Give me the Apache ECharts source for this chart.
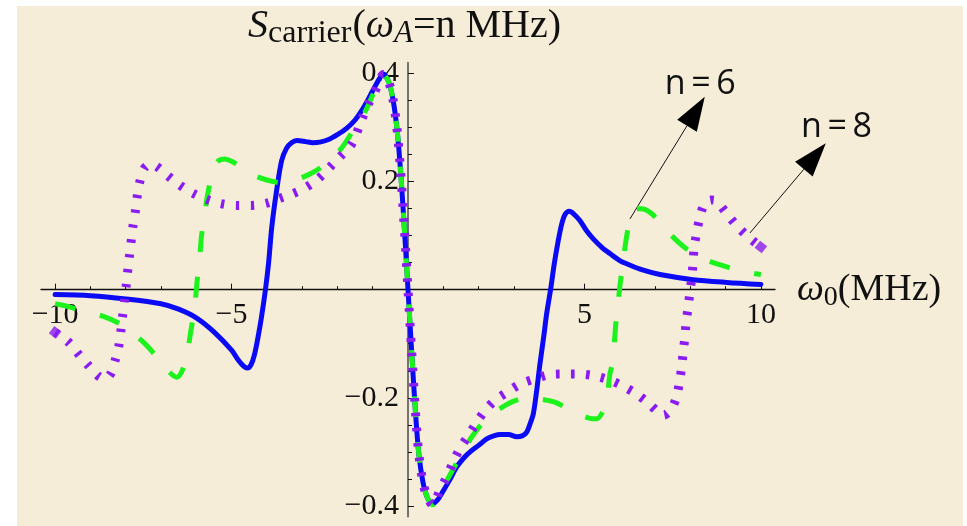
<!DOCTYPE html>
<html>
<head>
<meta charset="utf-8">
<script src="https://cdn.jsdelivr.net/npm/echarts@6/dist/echarts.min.js"></script>
<style>
  html, body { margin: 0; padding: 0; background: #ffffff; }
  #paper { position: absolute; left: 17px; top: 6px; width: 946px; height: 520px; background: #F6EDD8; }
  #chart { position: absolute; left: 0; top: 0; width: 967px; height: 526px; }
</style>
</head>
<body>
<div id="paper"></div>
<div id="chart"></div>
<script>
// S_carrier versus detuning omega_0 (MHz) for three modulation frequencies.
// Solid blue: reference response; dashed green: omega_A = 6 MHz; dotted violet: omega_A = 8 MHz.
const blueCurve = [
  [-10, -0.009], [-9, -0.011], [-8, -0.017], [-7, -0.026], [-6.5, -0.036], [-6, -0.052],
  [-5.5, -0.078], [-5, -0.112], [-4.8, -0.131], [-4.65, -0.142], [-4.55, -0.145], [-4.45, -0.139],
  [-4.35, -0.12], [-4.25, -0.088], [-4.15, -0.05], [-4.04, 0], [-3.95, 0.05], [-3.86, 0.116],
  [-3.72, 0.185], [-3.58, 0.239], [-3.44, 0.262], [-3.3, 0.272], [-3.15, 0.276], [-2.9, 0.274],
  [-2.7, 0.272], [-2.5, 0.273], [-2.25, 0.278], [-2.0, 0.287], [-1.75, 0.298], [-1.5, 0.314],
  [-1.25, 0.338], [-1.0, 0.368], [-0.85, 0.386], [-0.7, 0.399], [-0.55, 0.385], [-0.42, 0.35],
  [-0.3, 0.29], [-0.2, 0.21], [-0.1, 0.11], [0, 0], [0.1, -0.11], [0.2, -0.215], [0.3, -0.3],
  [0.42, -0.355], [0.55, -0.385], [0.69, -0.396], [0.85, -0.388], [1.0, -0.372], [1.2, -0.35],
  [1.38, -0.328], [1.6, -0.31], [1.76, -0.3], [2.0, -0.288], [2.23, -0.276], [2.45, -0.27],
  [2.61, -0.268], [2.85, -0.268], [3.08, -0.272], [3.25, -0.27], [3.36, -0.264], [3.45, -0.25],
  [3.55, -0.23], [3.65, -0.185], [3.74, -0.137], [3.85, -0.085], [3.93, -0.044], [4.04, 0],
  [4.15, 0.05], [4.25, 0.088], [4.35, 0.12], [4.45, 0.139], [4.57, 0.145], [4.7, 0.14],
  [4.87, 0.128], [5.05, 0.11], [5.25, 0.094], [5.5, 0.078], [5.72, 0.067], [6.0, 0.054],
  [6.2, 0.048], [6.67, 0.036], [7.14, 0.028], [8.08, 0.0185], [9.03, 0.0135], [10, 0.0098]
];

const greenCurve = [
  [-10, -0.026], [-9.7, -0.03], [-9.2, -0.04], [-8.65, -0.049], [-8.06, -0.067], [-7.5, -0.097],
  [-7.07, -0.128], [-6.8, -0.15], [-6.55, -0.162], [-6.4, -0.15], [-6.27, -0.122], [-6.15, -0.075],
  [-6.05, -0.035], [-5.97, 0.02], [-5.91, 0.054], [-5.85, 0.1], [-5.75, 0.144], [-5.7, 0.168],
  [-5.55, 0.215], [-5.4, 0.237], [-5.2, 0.242], [-4.95, 0.236], [-4.65, 0.225], [-4.38, 0.212],
  [-4.0, 0.203], [-3.72, 0.199], [-3.4, 0.198], [-3.06, 0.206], [-2.75, 0.215], [-2.45, 0.227],
  [-1.93, 0.258], [-1.55, 0.295], [-1.22, 0.329], [-0.98, 0.363], [-0.7, 0.398], [-0.55, 0.385],
  [-0.42, 0.35], [-0.3, 0.29], [-0.2, 0.21], [-0.1, 0.11], [0, 0], [0.1, -0.11], [0.2, -0.215],
  [0.3, -0.3], [0.42, -0.355], [0.55, -0.385], [0.7, -0.398], [0.85, -0.385], [1.1, -0.353],
  [1.42, -0.316], [1.8, -0.273], [2.27, -0.236], [2.84, -0.211], [3.1, -0.204], [3.41, -0.2],
  [3.8, -0.203], [4.16, -0.208], [4.73, -0.227], [5.1, -0.237], [5.35, -0.239], [5.5, -0.228],
  [5.63, -0.205], [5.72, -0.156], [5.78, -0.14], [5.85, -0.095], [5.9, -0.055], [5.96, -0.02],
  [6.02, 0.015], [6.1, 0.055], [6.2, 0.1], [6.3, 0.132], [6.45, 0.15], [6.6, 0.15], [6.9, 0.141],
  [7.33, 0.109], [7.88, 0.076], [8.41, 0.056], [9.1, 0.041], [9.71, 0.031], [10, 0.028]
];

const violetCurve = [
  [-10, -0.079], [-9.62, -0.097], [-9.34, -0.119], [-9.06, -0.14], [-8.77, -0.16], [-8.58, -0.165],
  [-8.42, -0.155], [-8.3, -0.131], [-8.2, -0.106], [-8.14, -0.078], [-8.09, -0.05], [-8.04, -0.024],
  [-7.99, 0.005], [-7.95, 0.031], [-7.9, 0.059], [-7.85, 0.087], [-7.8, 0.115], [-7.73, 0.143],
  [-7.68, 0.17], [-7.61, 0.197], [-7.48, 0.224], [-7.3, 0.232], [-7.12, 0.228], [-6.79, 0.21],
  [-6.46, 0.193], [-6.08, 0.178], [-5.7, 0.167], [-5.28, 0.159], [-4.85, 0.156], [-4.43, 0.156],
  [-4.0, 0.16], [-3.63, 0.169], [-3.25, 0.178], [-2.87, 0.19], [-2.55, 0.205], [-2.21, 0.227],
  [-1.93, 0.246], [-1.59, 0.27], [-1.31, 0.315], [-1.12, 0.344], [-0.94, 0.366], [-0.79, 0.39],
  [-0.7, 0.398], [-0.55, 0.385], [-0.42, 0.35], [-0.3, 0.29], [-0.2, 0.21], [-0.1, 0.11], [0, 0],
  [0.1, -0.11], [0.2, -0.215], [0.3, -0.3], [0.42, -0.355], [0.55, -0.385], [0.7, -0.398],
  [0.91, -0.37], [1.1, -0.346], [1.28, -0.319], [1.47, -0.294], [1.71, -0.27], [1.95, -0.245],
  [2.18, -0.224], [2.46, -0.205], [2.8, -0.19], [3.17, -0.175], [3.6, -0.165], [4.02, -0.157],
  [4.45, -0.156], [4.87, -0.156], [5.25, -0.159], [5.7, -0.167], [6.05, -0.177], [6.43, -0.191],
  [6.78, -0.208], [7.1, -0.227], [7.25, -0.232], [7.45, -0.222], [7.6, -0.2], [7.7, -0.168],
  [7.76, -0.14], [7.8, -0.114], [7.85, -0.086], [7.88, -0.06], [7.94, -0.032], [7.99, -0.004],
  [8.04, 0.022], [8.08, 0.051], [8.11, 0.079], [8.18, 0.105], [8.27, 0.134], [8.41, 0.16],
  [8.6, 0.166], [8.74, 0.164], [9.03, 0.141], [9.31, 0.119], [9.6, 0.1], [10, 0.079]
];

// Axis ticks and labels
const xMajorTicks = [-10, -5, 5, 10];
const xMinorTicks = [-9, -8, -7, -6, -4, -3, -2, -1, 1, 2, 3, 4, 6, 7, 8, 9];
const yMajorTicks = [-0.4, -0.2, 0.2, 0.4];
const yMinorTicks = [-0.35, -0.3, -0.25, -0.15, -0.1, -0.05, 0.05, 0.1, 0.15, 0.25, 0.3, 0.35];

// Callouts: label text, label centre, arrow tail, arrow tip (data units)
const calloutLabels = ['n\u2009=\u20096', 'n\u2009=\u20098'];
const calloutTextAt = [[8.28, 0.38], [12.14, 0.3]];
const calloutTail = [[6.29, 0.131], [9.69, 0.105]];
const calloutTip = [[8.41, 0.357], [11.84, 0.271]];

const serif = 'Liberation Serif';
const minus = v => String(v).replace('-', '\u2212');

// Plot frame (pixels) and axis ranges; the axes cross at the origin, which sits mid-frame.
const GRID = { left: 41, top: 62.7, width: 734, height: 454 };
const X_RANGE = [-10.4, 10.4];
const Y_RANGE = [-0.42, 0.42];
const xAxisOffset = -GRID.height * (0 - Y_RANGE[0]) / (Y_RANGE[1] - Y_RANGE[0]);
const yAxisOffset = -GRID.width * (0 - X_RANGE[0]) / (X_RANGE[1] - X_RANGE[0]);

const chart = echarts.init(document.getElementById('chart'), null, { renderer: 'canvas' });

const tickStyle = { color: '#111', width: 1 };
const txt = (extra) => Object.assign({ fontFamily: serif, fontWeight: 'normal', color: '#111' }, extra);

chart.setOption({
  animation: false,
  backgroundColor: 'transparent',
  title: {
    text: '{s|S}{sub|carrier}{m|(}{w|\u03c9}{suba|A}{m|=n MHz)}',
    left: 243,
    top: -2,
    textStyle: {
      fontWeight: 'normal',
      rich: {
        s: txt({ fontStyle: 'italic', fontSize: 40, lineHeight: 46 }),
        sub: txt({ fontSize: 32, lineHeight: 30, padding: [15, 1, 0, 0] }),
        m: txt({ fontSize: 40, lineHeight: 46 }),
        w: txt({ fontStyle: 'italic', fontSize: 40, lineHeight: 46 }),
        suba: txt({ fontStyle: 'italic', fontSize: 31, lineHeight: 30, padding: [15, 0, 0, 0] })
      }
    }
  },
  grid: Object.assign({ containLabel: false, outerBoundsMode: 'none' }, GRID),
  xAxis: [
    {
      type: 'value', min: X_RANGE[0], max: X_RANGE[1], position: 'bottom', offset: xAxisOffset,
      axisLine: { onZero: false, lineStyle: { color: '#111', width: 1.3 } },
      axisTick: { show: true, inside: true, length: 6, customValues: xMajorTicks, lineStyle: tickStyle },
      axisLabel: Object.assign(txt({ fontSize: 30 }), {
        customValues: xMajorTicks, margin: 10, formatter: v => minus(v)
      }),
      splitLine: { show: false },
      name: '{w|\u03c9}{sub|0}{m|(MHz)}',
      nameLocation: 'end',
      nameGap: 22,
      nameTextStyle: {
        rich: {
          w: txt({ fontStyle: 'italic', fontSize: 38, lineHeight: 42 }),
          sub: txt({ fontSize: 28, lineHeight: 26, padding: [15, 0, 0, 0] }),
          m: txt({ fontSize: 38, lineHeight: 42 })
        }
      }
    },
    {
      type: 'value', min: X_RANGE[0], max: X_RANGE[1], position: 'bottom', offset: xAxisOffset,
      axisLine: { show: false, onZero: false },
      axisTick: { show: true, inside: true, length: 3.5, customValues: xMinorTicks, lineStyle: tickStyle },
      axisLabel: { show: false },
      splitLine: { show: false }
    }
  ],
  yAxis: [
    {
      type: 'value', min: Y_RANGE[0], max: Y_RANGE[1], position: 'left', offset: yAxisOffset,
      axisLine: { onZero: false, lineStyle: { color: '#666', width: 1.8 } },
      axisTick: { show: true, inside: true, length: 6, customValues: yMajorTicks, lineStyle: tickStyle },
      axisLabel: Object.assign(txt({ fontSize: 30 }), {
        customValues: yMajorTicks, margin: 9, formatter: v => minus(v.toFixed(1))
      }),
      splitLine: { show: false }
    },
    {
      type: 'value', min: Y_RANGE[0], max: Y_RANGE[1], position: 'left', offset: yAxisOffset,
      axisLine: { show: false, onZero: false },
      axisTick: { show: true, inside: true, length: 4, customValues: yMinorTicks, lineStyle: tickStyle },
      axisLabel: { show: false },
      splitLine: { show: false }
    }
  ],
  series: [
    {
      name: 'solid', type: 'line', data: blueCurve, smooth: 0.3, showSymbol: false, symbol: 'none',
      lineStyle: { color: '#0A0AF5', width: 5, cap: 'round', join: 'round' }
    },
    {
      name: 'n = 6', type: 'line', data: greenCurve, smooth: 0.3, showSymbol: false, symbol: 'none',
      lineStyle: { color: '#1CF21C', width: 5, type: [21, 25], cap: 'butt' }
    },
    {
      name: 'n = 8', type: 'line', data: violetCurve, smooth: 0.3, showSymbol: false, symbol: 'none',
      lineStyle: { color: '#8A1CF2', width: 9, type: [3.5, 11.5], cap: 'butt' }
    },
    {
      name: 'n = 8 ends', type: 'scatter', symbol: 'rect', symbolSize: 9,
      itemStyle: { color: '#8A1CF2' },
      data: [
        { value: violetCurve[0], symbolRotate: -38 },
        { value: violetCurve[violetCurve.length - 1], symbolRotate: -38 }
      ]
    }
  ]
});

// Callout arrows and labels, positioned from data coordinates
const graphics = [];
calloutLabels.forEach((label, i) => {
  const tail = chart.convertToPixel({ gridIndex: 0 }, calloutTail[i]);
  const tip = chart.convertToPixel({ gridIndex: 0 }, calloutTip[i]);
  const at = chart.convertToPixel({ gridIndex: 0 }, calloutTextAt[i]);
  const dx = tip[0] - tail[0], dy = tip[1] - tail[1];
  const len = Math.hypot(dx, dy);
  const ux = dx / len, uy = dy / len;
  const headLen = 34, headHalf = 11.5;
  const bx = tip[0] - ux * headLen, by = tip[1] - uy * headLen;
  graphics.push({
    type: 'line', silent: true,
    shape: { x1: tail[0], y1: tail[1], x2: bx, y2: by },
    style: { stroke: '#111', lineWidth: 1 }
  });
  graphics.push({
    type: 'polygon', silent: true,
    shape: { points: [[tip[0], tip[1]], [bx - uy * headHalf, by + ux * headHalf], [bx + uy * headHalf, by - ux * headHalf]] },
    style: { fill: '#000' }
  });
  graphics.push({
    type: 'text', silent: true,
    x: at[0], y: at[1],
    style: {
      text: label, fill: '#111', fontFamily: 'Open Sans', fontSize: 34,
      align: 'center', verticalAlign: 'middle'
    }
  });
});
chart.setOption({ graphic: graphics });
</script>
</body>
</html>
